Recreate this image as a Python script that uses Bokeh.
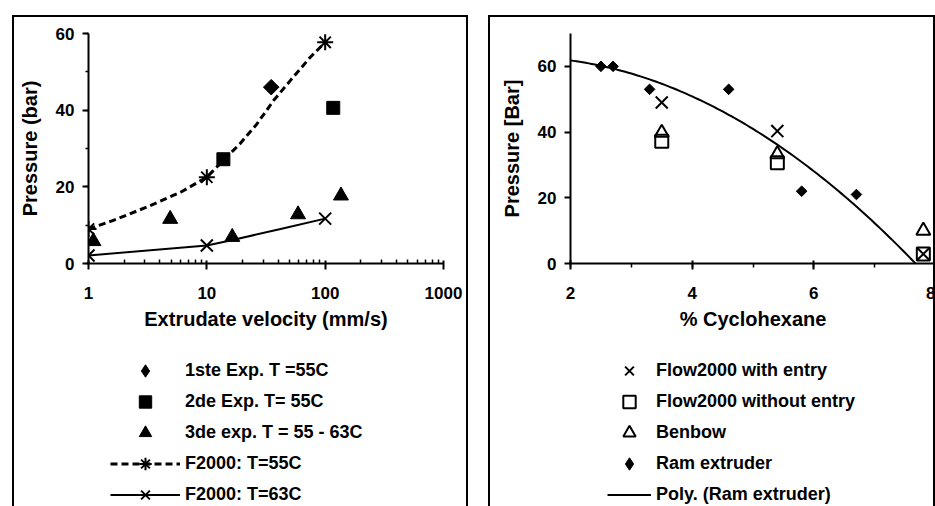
import numpy as np
from bokeh.plotting import figure
from bokeh.models import Legend, LegendItem, FixedTicker, SingleIntervalTicker, Range1d, Spacer
from bokeh.layouts import row, column
from bokeh.embed import file_html
from bokeh.resources import INLINE

# ---------------- Left panel data (Extrudate velocity vs pressure) ----------------
exp1_v = [35]
exp1_p = [46]
exp2_v = [13.8, 117]
exp2_p = [27.2, 40.6]
exp3_v = [1.1, 4.9, 16.4, 59, 136]
exp3_p = [5.8, 11.6, 6.9, 12.8, 17.7]
f55_v = [1, 10, 100]
f55_p = [9, 22.5, 57.7]
f55_curve_v = [1, 1.6, 3.1, 6, 10, 13.8, 19, 26.5, 36.6, 50.7, 74.8, 100]
f55_curve_p = [9, 11.2, 14.7, 18.6, 22.5, 26.9, 31.2, 36.4, 42.5, 47.7, 53.8, 57.7]
f63_v = [1, 10, 100]
f63_p = [2.1, 4.7, 11.7]
f63_curve_v = [1, 10, 15.8, 42, 100]
f63_curve_p = [2.1, 4.7, 6.0, 9.0, 11.7]
left_ticks = [1, 10, 100, 1000]
left_tick_labels = ["1", "10", "100", "1000"]
left_labels = ["1ste Exp. T =55C", "2de Exp. T= 55C", "3de exp. T = 55 - 63C",
               "F2000: T=55C", "F2000: T=63C"]

# ---------------- Right panel data (% cyclohexane vs pressure) ----------------
ram_c = [2.5, 2.7, 3.3, 4.6, 5.8, 6.7]
ram_p = [60, 60, 53, 53, 22, 21]
entry_c = [3.5, 5.4, 7.8]
entry_p = [49, 40.3, 2.9]
noentry_c = [3.5, 5.4, 7.8]
noentry_p = [37.2, 30.7, 2.9]
benbow_c = [3.5, 5.4, 7.8]
benbow_p = [39.8, 33.3, 10]
right_labels = ["Flow2000 with entry", "Flow2000 without entry", "Benbow",
                "Ram extruder", "Poly. (Ram extruder)"]

FONT = "Liberation Sans"
BOX_TOP = {"box-shadow": "inset 0 2px 0 0 black, inset 2px 0 0 0 black, inset -2px 0 0 0 black"}
BOX_SIDES = {"box-shadow": "inset 2px 0 0 0 black, inset -2px 0 0 0 black"}

# styles for the marks
S_EXP1 = dict(marker="square", angle=np.pi / 4, size=11, color="black")
S_EXP1_KEY = dict(marker="diamond", color="black")
S_EXP2 = dict(marker="square", size=13, color="black")
S_EXP3 = dict(marker="triangle", size=15, color="black")
S_F55L = dict(line_color="black", line_width=3, line_dash="7 4")
S_F55M = dict(marker="asterisk", size=16, line_width=2, color="black")
S_F63L = dict(line_color="black", line_width=2)
S_F63M = dict(marker="x", size=17, line_width=2, color="black")
S_POLY = dict(line_color="black", line_width=2)
S_RAM = dict(marker="square", angle=np.pi / 4, size=7.5, color="black")
S_RAM_KEY = dict(marker="diamond", color="black")
S_BEN = dict(marker="triangle", size=14, line_width=2, line_color="black", fill_color=None)
S_NOE = dict(marker="square", size=13, line_width=2, line_color="black", fill_color=None)
S_ENT = dict(marker="x", size=17, line_width=2, color="black")


def style_axis(ax, label):
    ax.axis_label = label
    ax.axis_label_text_font = FONT
    ax.axis_label_text_font_style = "bold"
    ax.axis_label_text_font_size = "20px"
    ax.axis_label_text_color = "black"
    ax.major_label_text_font = FONT
    ax.major_label_text_font_style = "bold"
    ax.major_label_text_font_size = "17px"
    ax.major_label_text_color = "black"
    ax.axis_line_width = 2
    ax.axis_line_color = "black"
    ax.major_tick_line_width = 2
    ax.major_tick_line_color = "black"
    ax.minor_tick_line_width = 1.5
    ax.minor_tick_line_color = "black"


def style_legend(lg, gw):
    lg.border_line_color = None
    lg.background_fill_alpha = 0
    lg.padding = 0
    lg.margin = 0
    lg.spacing = 0
    lg.glyph_height = 31
    lg.label_height = 31
    lg.glyph_width = gw
    lg.label_standoff = 5
    lg.label_text_font = FONT
    lg.label_text_font_style = "bold"
    lg.label_text_font_size = "18px"
    lg.label_text_color = "black"


def chart_fig(**kw):
    p = figure(height=325, output_backend="svg", toolbar_location=None,
               min_border_top=18, min_border_bottom=77,
               outline_line_color=None, background_fill_alpha=0,
               border_fill_alpha=0, **kw)
    p.styles = BOX_TOP
    p.xgrid.visible = False
    p.ygrid.visible = False
    return p


def legend_fig(width):
    p = figure(width=width, height=166, output_backend="svg", toolbar_location=None,
               x_range=Range1d(0, 1), y_range=Range1d(0, 1),
               x_axis_location=None, y_axis_location=None,
               min_border=0, outline_line_color=None,
               background_fill_alpha=0, border_fill_alpha=0)
    p.styles = BOX_SIDES
    p.xgrid.visible = False
    p.ygrid.visible = False
    return p


# ---------------- Left chart ----------------
p1 = chart_fig(width=456, x_axis_type="log",
               x_range=Range1d(1, 1000), y_range=Range1d(0, 60),
               min_border_left=76, min_border_right=25)

xa = p1.xaxis[0]
xa.ticker = FixedTicker(ticks=left_ticks,
                        minor_ticks=[m * 10 ** e for e in range(3) for m in range(2, 10)])
xa.major_label_overrides = dict(zip(left_ticks, left_tick_labels))
style_axis(xa, "Extrudate velocity (mm/s)")
xa.major_tick_out = 6
xa.major_tick_in = 3
xa.minor_tick_in = 4
xa.minor_tick_out = 0
xa.major_label_standoff = 17
xa.axis_label_standoff = 6

ya = p1.yaxis[0]
ya.ticker = SingleIntervalTicker(interval=20, num_minor_ticks=2)
style_axis(ya, "Pressure (bar)")
ya.major_tick_out = 6
ya.major_tick_in = 0
ya.minor_tick_out = 3
ya.minor_tick_in = 0
ya.major_label_standoff = 8
ya.axis_label_standoff = 12

p1.line(f55_curve_v, f55_curve_p, **S_F55L)
p1.line(f63_curve_v, f63_curve_p, **S_F63L)
p1.scatter(exp1_v, exp1_p, **S_EXP1)
p1.scatter(exp2_v, exp2_p, **S_EXP2)
p1.scatter(exp3_v, exp3_p, **S_EXP3)
p1.scatter(f55_v, f55_p, **S_F55M)
p1.scatter(f63_v, f63_p, **S_F63M)

# legend canvases: their renderers hold no drawable point (NaN), they only give the key glyphs
nan = np.array([np.nan, np.nan])

# left legend (own canvas below the chart; its frame is aligned with the chart frame)
q1 = legend_fig(456)
k1 = q1.scatter(nan, nan, **S_EXP1_KEY)
k2 = q1.scatter(nan, nan, **S_EXP2)
k3 = q1.scatter(nan, nan, **S_EXP3)
k4l = q1.line(nan, nan, **S_F55L)
k4m = q1.scatter(nan, nan, **S_F55M)
k5l = q1.line(nan, nan, **S_F63L)
k5m = q1.scatter(nan, nan, **S_F63M)
lg1 = Legend(items=[
    LegendItem(label=left_labels[0], renderers=[k1]),
    LegendItem(label=left_labels[1], renderers=[k2]),
    LegendItem(label=left_labels[2], renderers=[k3]),
    LegendItem(label=left_labels[3], renderers=[k4l, k4m]),
    LegendItem(label=left_labels[4], renderers=[k5l, k5m]),
], location=(22, -4))
style_legend(lg1, 70)
q1.add_layout(lg1)

# ---------------- Right chart ----------------
p2 = chart_fig(width=447, x_range=Range1d(2, 8), y_range=Range1d(0, 70),
               min_border_left=82, min_border_right=0)

xb = p2.xaxis[0]
xb.ticker = SingleIntervalTicker(interval=2, num_minor_ticks=2)
style_axis(xb, "% Cyclohexane")
xb.major_tick_out = 6
xb.major_tick_in = 3
xb.minor_tick_out = 4
xb.minor_tick_in = 0
xb.major_label_standoff = 17
xb.axis_label_standoff = 6

yb = p2.yaxis[0]
yb.ticker = SingleIntervalTicker(interval=20, num_minor_ticks=0)
style_axis(yb, "Pressure [Bar]")
yb.major_tick_out = 6
yb.major_tick_in = 0
yb.major_label_standoff = 8
yb.axis_label_standoff = 12

coef = np.polyfit(ram_c, ram_p, 2)
poly_c = np.linspace(2, 8, 121)
poly_p = np.polyval(coef, poly_c)
p2.line(poly_c, poly_p, **S_POLY)
p2.scatter(ram_c, ram_p, **S_RAM)
p2.scatter(benbow_c, benbow_p, **S_BEN)
p2.scatter(noentry_c, noentry_p, **S_NOE)
p2.scatter(entry_c, entry_p, **S_ENT)

# right legend
q2 = legend_fig(447)
j1 = q2.scatter(nan, nan, **S_ENT)
j2 = q2.scatter(nan, nan, **S_NOE)
j3 = q2.scatter(nan, nan, **S_BEN)
j4 = q2.scatter(nan, nan, **S_RAM_KEY)
j5 = q2.line(nan, nan, **S_POLY)
lg2 = Legend(items=[
    LegendItem(label=right_labels[0], renderers=[j1]),
    LegendItem(label=right_labels[1], renderers=[j2]),
    LegendItem(label=right_labels[2], renderers=[j3]),
    LegendItem(label=right_labels[3], renderers=[j4]),
    LegendItem(label=right_labels[4], renderers=[j5]),
], location=(37, -4))
style_legend(lg2, 44)
q2.add_layout(lg2)

layout = column(Spacer(height=15),
                row(Spacer(width=12), column(p1, q1), Spacer(width=20), column(p2, q2)))
open("out.html", "w").write(file_html(layout, INLINE))
